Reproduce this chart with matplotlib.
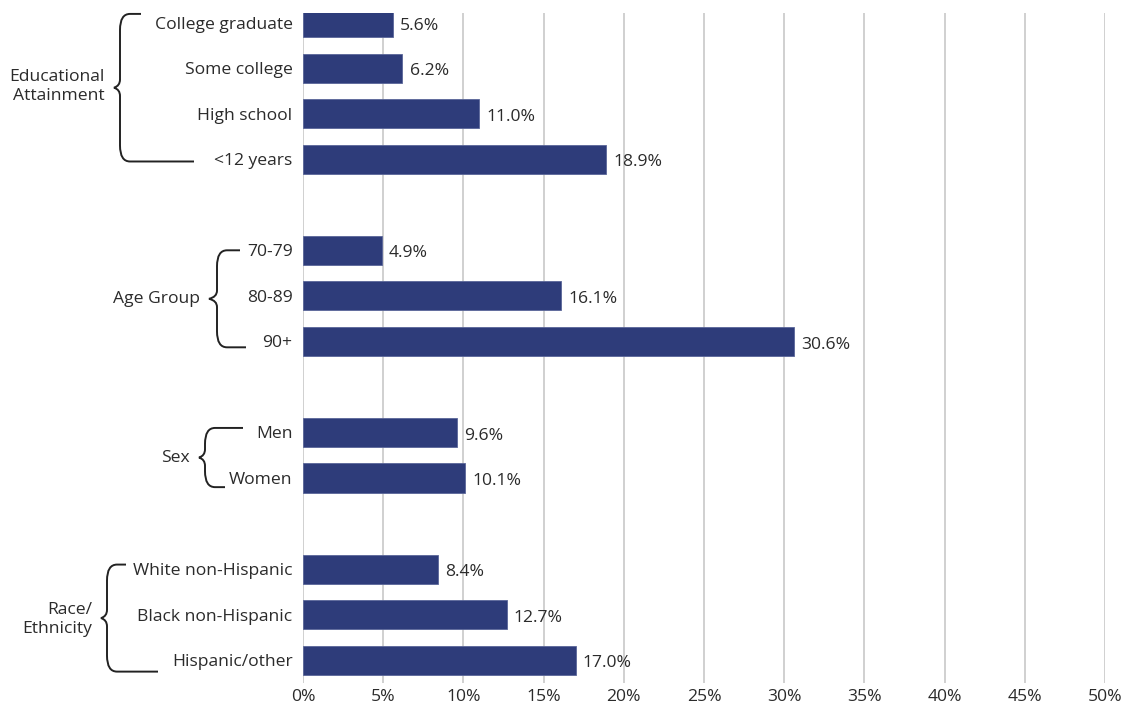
import numpy as np
import matplotlib.pyplot as plt
from matplotlib.path import Path
from matplotlib.patches import PathPatch
import matplotlib.transforms as mtransforms

plt.rcParams['font.family'] = ['Open Sans', 'DejaVu Sans']

# data
labels = ['College graduate', 'Some college', 'High school', '<12 years',
          '70-79', '80-89', '90+',
          'Men', 'Women',
          'White non-Hispanic', 'Black non-Hispanic', 'Hispanic/other']
values = [5.6, 6.2, 11.0, 18.9,
          4.9, 16.1, 30.6,
          9.6, 10.1,
          8.4, 12.7, 17.0]
slots = [0, 1, 2, 3, 5, 6, 7, 9, 10, 12, 13, 14]
groups = ['Educational\nAttainment', 'Age Group', 'Sex', 'Race/\nEthnicity']
xticks = [0, 5, 10, 15, 20, 25, 30, 35, 40, 45, 50]

bar_color = '#2e3c7a'
text_color = '#2b2b2b'
fs = 12.6

W, H = 1124, 705
fig = plt.figure(figsize=(W / 100, H / 100), dpi=100)
ax = fig.add_axes([303 / W, 1 - 683 / H, (1105 - 303) / W, (683 - 13) / H])

ax.barh(slots, values, height=0.64, color=bar_color, edgecolor='#5a6699',
        linewidth=0.6, zorder=3)
for s, v in zip(slots, values):
    ax.text(v + 0.45, s + 0.07, '%.1f%%' % v, va='center', ha='left',
            fontsize=fs, color=text_color)

ax.set_xlim(0, 50)
ax.set_ylim(14.5, -0.21)
ax.set_xticks(xticks)
ax.set_xticklabels(['%d%%' % t for t in xticks], fontsize=fs, color=text_color)
ax.set_yticks(slots)
ax.set_yticklabels(labels, fontsize=fs, color=text_color)
ax.tick_params(axis='both', length=0)
ax.tick_params(axis='y', pad=7.5)
ax.tick_params(axis='x', pad=4)
ax.grid(axis='x', color='#c8c8c8', linewidth=1.2, zorder=0)
for sp in ax.spines.values():
    sp.set_visible(False)

# braces: x in figure fraction, y in data units
trans = mtransforms.blended_transform_factory(fig.transFigure, ax.transData)


def brace(x_top_end, x_bot_end, x_vert, x_cusp, y_top, y_bot, r=0.35):
    xv, xc = x_vert / W, x_cusp / W
    xt, xb = x_top_end / W, x_bot_end / W
    ym = (y_top + y_bot) / 2
    rx = 10 / W
    verts = [(xt, y_top), (xv + rx, y_top),
             (xv, y_top), (xv, y_top + r),
             (xv, ym - 0.18),
             (xv, ym - 0.04), (xc, ym),
             (xv, ym + 0.04), (xv, ym + 0.18),
             (xv, y_bot - r),
             (xv, y_bot), (xv + rx, y_bot),
             (xb, y_bot)]
    codes = [Path.MOVETO, Path.LINETO,
             Path.CURVE3, Path.CURVE3,
             Path.LINETO,
             Path.CURVE3, Path.CURVE3,
             Path.CURVE3, Path.CURVE3,
             Path.LINETO,
             Path.CURVE3, Path.CURVE3,
             Path.LINETO]
    p = PathPatch(Path(verts, codes), transform=trans, fill=False,
                  edgecolor='#222222', linewidth=1.4, clip_on=False)
    ax.add_patch(p)


brace(141, 194, 120, 114, -0.19, 3.05)
brace(240, 246, 217, 209, 5.0, 7.13)
brace(243, 225, 205, 199, 8.9, 10.2)
brace(126, 158, 107, 101, 11.9, 14.25)

ax.text(105 / W, 1.4, groups[0], transform=trans, ha='right', va='center',
        multialignment='right', fontsize=fs, color=text_color,
        linespacing=1.25)
ax.text(200 / W, 6.06, groups[1], transform=trans, ha='right', va='center',
        fontsize=fs, color=text_color)
ax.text(190 / W, 9.55, groups[2], transform=trans, ha='right', va='center',
        fontsize=fs, color=text_color)
ax.text(92 / W, 13.1, groups[3], transform=trans, ha='right', va='center',
        multialignment='right', fontsize=fs, color=text_color,
        linespacing=1.25)

fig.savefig('out.png', dpi=100)
